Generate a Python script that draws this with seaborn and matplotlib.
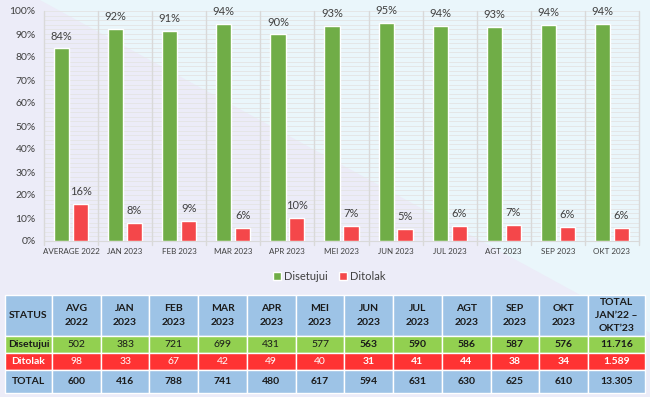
import matplotlib
matplotlib.use("Agg")
import matplotlib.pyplot as plt
from matplotlib.patches import Polygon
import pandas as pd
import seaborn as sns

# persentase per bulan
bulan = ["AVERAGE 2022", "JAN 2023", "FEB 2023", "MAR 2023", "APR 2023", "MEI 2023",
         "JUN 2023", "JUL 2023", "AGT 2023", "SEP 2023", "OKT 2023"]
disetujui_pct = [83.7, 92.1, 91.4, 94.3, 89.8, 93.4, 94.8, 93.6, 93.0, 93.9, 94.4]
ditolak_pct = [16.3, 7.9, 8.6, 5.7, 10.2, 6.6, 5.2, 6.4, 7.0, 6.1, 5.6]

# tabel jumlah
kolom_tabel = ["STATUS", "AVG\n2022", "JAN\n2023", "FEB\n2023", "MAR\n2023", "APR\n2023",
               "MEI\n2023", "JUN\n2023", "JUL\n2023", "AGT\n2023", "SEP\n2023", "OKT\n2023",
               "TOTAL\nJAN\u201922 \u2013\nOKT\u201923"]
disetujui_n = ["502", "383", "721", "699", "431", "577", "563", "590", "586", "587", "576", "11.716"]
ditolak_n = ["98", "33", "67", "42", "49", "40", "31", "41", "44", "38", "34", "1.589"]
total_n = ["600", "416", "788", "741", "480", "617", "594", "631", "630", "625", "610", "13.305"]

GREEN = "#70AD47"
RED = "#F4474A"
TXT = "#404040"

sns.set_style("white")
plt.rcParams["font.family"] = ["Lato", "DejaVu Sans"]

df = pd.DataFrame({
    "bulan": bulan * 2,
    "persen": disetujui_pct + ditolak_pct,
    "status": ["Disetujui"] * len(bulan) + ["Ditolak"] * len(bulan),
})

W, H = 650, 397
fig = plt.figure(figsize=(6.5, 3.97), dpi=100)
fig.patch.set_facecolor("#EAF6FB")
# background slide shape
bg = Polygon([(0, 1), (40 / W, 1), (1, 1 - 333 / H), (1, 0), (0, 0)],
             closed=True, transform=fig.transFigure, facecolor="#ECECF8",
             edgecolor="none", zorder=-10)
fig.patches.append(bg)

ax = fig.add_axes([44 / W, (H - 241) / H, 595 / W, 230 / H])
ax.set_facecolor("none")

sns.barplot(data=df, x="bulan", y="persen", hue="status",
            palette={"Disetujui": GREEN, "Ditolak": RED}, saturation=1,
            width=0.7, gap=0.2, ax=ax, zorder=3)

for cont in ax.containers:
    ax.bar_label(cont, fmt="{:.0f}%", padding=5, fontsize=8, color=TXT)

ax.set_ylim(0, 100)
ax.set_xlim(-0.5, len(bulan) - 0.5)
ax.set_yticks(range(0, 101, 10))
ax.set_yticklabels([f"{v}%" for v in range(0, 101, 10)], fontsize=7.5, color=TXT)
ax.set_xticks(range(len(bulan)))
ax.set_xticklabels(bulan, fontsize=5.8, color=TXT)
ax.tick_params(axis="both", length=0)
ax.tick_params(axis="x", pad=5)
ax.tick_params(axis="y", pad=6)
ax.set_xlabel("")
ax.set_ylabel("")

# grid halus tiap 2%
for v in range(2, 101, 2):
    ax.axhline(v, color="#E4E4E4", lw=0.6, zorder=1)
# pemisah kategori
for i in range(len(bulan) + 1):
    ax.plot([i - 0.5, i - 0.5], [-1.8, 100], color="#D9D9D9", lw=1, zorder=1, clip_on=False)

for s in ["top", "right", "left"]:
    ax.spines[s].set_visible(False)
ax.spines["bottom"].set_color("#D9D9D9")

ax.legend(loc="upper center", bbox_to_anchor=(0.48, -0.085), ncol=2, frameon=False,
          handlelength=0.7, handleheight=0.7, handletextpad=0.3, columnspacing=1.0,
          fontsize=8, labelcolor=TXT)

# tabel
tab_ax = fig.add_axes([5 / W, 4 / H, 640 / W, 98 / H])
tab_ax.axis("off")
rows = [kolom_tabel, ["Disetujui"] + disetujui_n, ["Ditolak"] + ditolak_n, ["TOTAL"] + total_n]
col_w = [47] + [48.7] * 11 + [57]
tbl = tab_ax.table(cellText=rows, cellLoc="center", bbox=[0, 0, 1, 1], colWidths=col_w)
tbl.auto_set_font_size(False)
row_h = [41, 17, 17, 23]
row_bg = ["#9DC3E6", "#92D050", "#FF3333", "#9DC3E6"]
for (r, c), cell in tbl.get_celld().items():
    cell.set_height(row_h[r])
    cell.set_facecolor(row_bg[r])
    cell.set_edgecolor("white")
    cell.set_linewidth(1)
    t = cell.get_text()
    t.set_fontsize(7.5)
    t.set_linespacing(1.6)
    bold = r in (0, 3) or c == 0 or c >= 7
    t.set_fontweight("bold" if bold else "normal")
    t.set_color("white" if r == 2 else "#1A1A1A")

fig.savefig("out.png", dpi=100, facecolor=fig.get_facecolor())
